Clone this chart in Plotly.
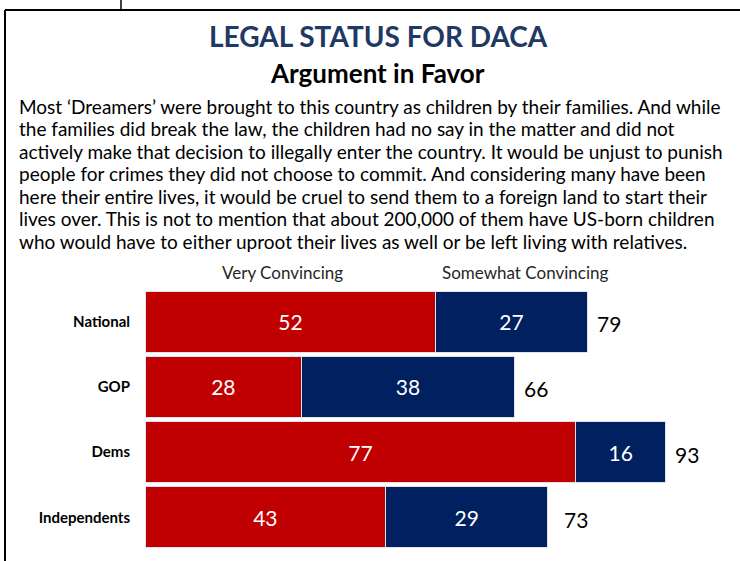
import plotly.graph_objects as go

# Data
groups = ["National", "GOP", "Dems", "Independents"]
very = [52, 28, 77, 43]
somewhat = [27, 38, 16, 29]
totals = [79, 66, 93, 73]

title = "LEGAL STATUS FOR DACA"
subtitle = "Argument in Favor"
paragraph = [
    "Most \u2018Dreamers\u2019 were brought to this country as children by their families. And while",
    "the families did break the law, the children had no say in the matter and did not",
    "actively make that decision to illegally enter the country. It would be unjust to punish",
    "people for crimes they did not choose to commit. And considering many have been",
    "here their entire lives, it would be cruel to send them to a foreign land to start their",
    "lives over. This is not to mention that about 200,000 of them have US-born children",
    "who would have to either uproot their lives as well or be left living with relatives.",
]

RED = "#C00000"
NAVY = "#002060"
FONT = "Lato"
W, H = 740, 561


def py(px):
    # pixel row from the top -> paper y
    return 1 - px / H


fig = go.Figure()
fig.add_trace(go.Bar(
    y=groups, x=very, orientation="h", name="Very Convincing",
    marker=dict(color=RED, line=dict(color="#dfe4ee", width=1)),
    text=very, textposition="inside", insidetextanchor="middle",
    textfont=dict(color="white", size=21, family=FONT), textangle=0,
))
fig.add_trace(go.Bar(
    y=groups, x=somewhat, orientation="h", name="Somewhat Convincing",
    marker=dict(color=NAVY, line=dict(color="#dfe4ee", width=1)),
    text=somewhat, textposition="inside", insidetextanchor="middle",
    textfont=dict(color="white", size=21, family=FONT), textangle=0,
))

# totals to the right of the bars
for g, t in zip(groups, totals):
    fig.add_annotation(x=t, y=g, text=str(t), showarrow=False, xanchor="left", yanchor="middle",
                       xshift=8, yshift=-2, font=dict(size=21, color="black", family=FONT))

# header texts
fig.add_annotation(x=282 / W, y=py(273), xref="paper", yref="paper", text="Very Convincing",
                   showarrow=False, xanchor="center", yanchor="middle",
                   font=dict(size=17, color="#262626", family=FONT))
fig.add_annotation(x=525 / W, y=py(273), xref="paper", yref="paper", text="Somewhat Convincing",
                   showarrow=False, xanchor="center", yanchor="middle",
                   font=dict(size=17, color="#262626", family=FONT))

fig.add_annotation(x=378 / W, y=py(36), xref="paper", yref="paper", text="<b>" + title + "</b>",
                   showarrow=False, xanchor="center", yanchor="middle",
                   font=dict(size=28, color="#1F3864", family=FONT))
fig.add_annotation(x=377 / W, y=py(73), xref="paper", yref="paper", text="<b>" + subtitle + "</b>",
                   showarrow=False, xanchor="center", yanchor="middle",
                   font=dict(size=26, color="black", family=FONT))
for i, line in enumerate(paragraph):
    fig.add_annotation(x=17 / W, y=py(106 + i * 22.5), xref="paper", yref="paper", text=line,
                       showarrow=False, xanchor="left", yanchor="middle",
                       font=dict(size=19, color="black", family=FONT))

# frame around the slide
fig.add_shape(type="line", xref="paper", yref="paper", x0=5 / W, x1=5 / W, y0=0, y1=py(10),
              line=dict(color="black", width=2))
fig.add_shape(type="line", xref="paper", yref="paper", x0=5 / W, x1=1, y0=py(10), y1=py(10),
              line=dict(color="black", width=2))
fig.add_shape(type="line", xref="paper", yref="paper", x0=121 / W, x1=121 / W, y0=1, y1=py(10),
              line=dict(color="black", width=1.5))

fig.update_layout(
    width=W, height=H, margin=dict(l=0, r=0, t=0, b=0),
    barmode="stack", bargap=0.065, showlegend=False,
    plot_bgcolor="white", paper_bgcolor="white",
    font=dict(family=FONT),
    xaxis=dict(domain=[145 / W, 1], range=[0, (W - 145) / 5.596], visible=False),
    yaxis=dict(domain=[py(550), py(288.9)], autorange="reversed",
               tickmode="array", tickvals=groups, ticktext=["<b>" + g + "</b>" for g in groups],
               tickfont=dict(size=15, color="black", family=FONT), ticks="", showline=False,
               showgrid=False, ticklabelstandoff=14),
)

fig.write_html("out.html", config={"displayModeBar": False},
               post_script="document.body.style.margin='0';")
